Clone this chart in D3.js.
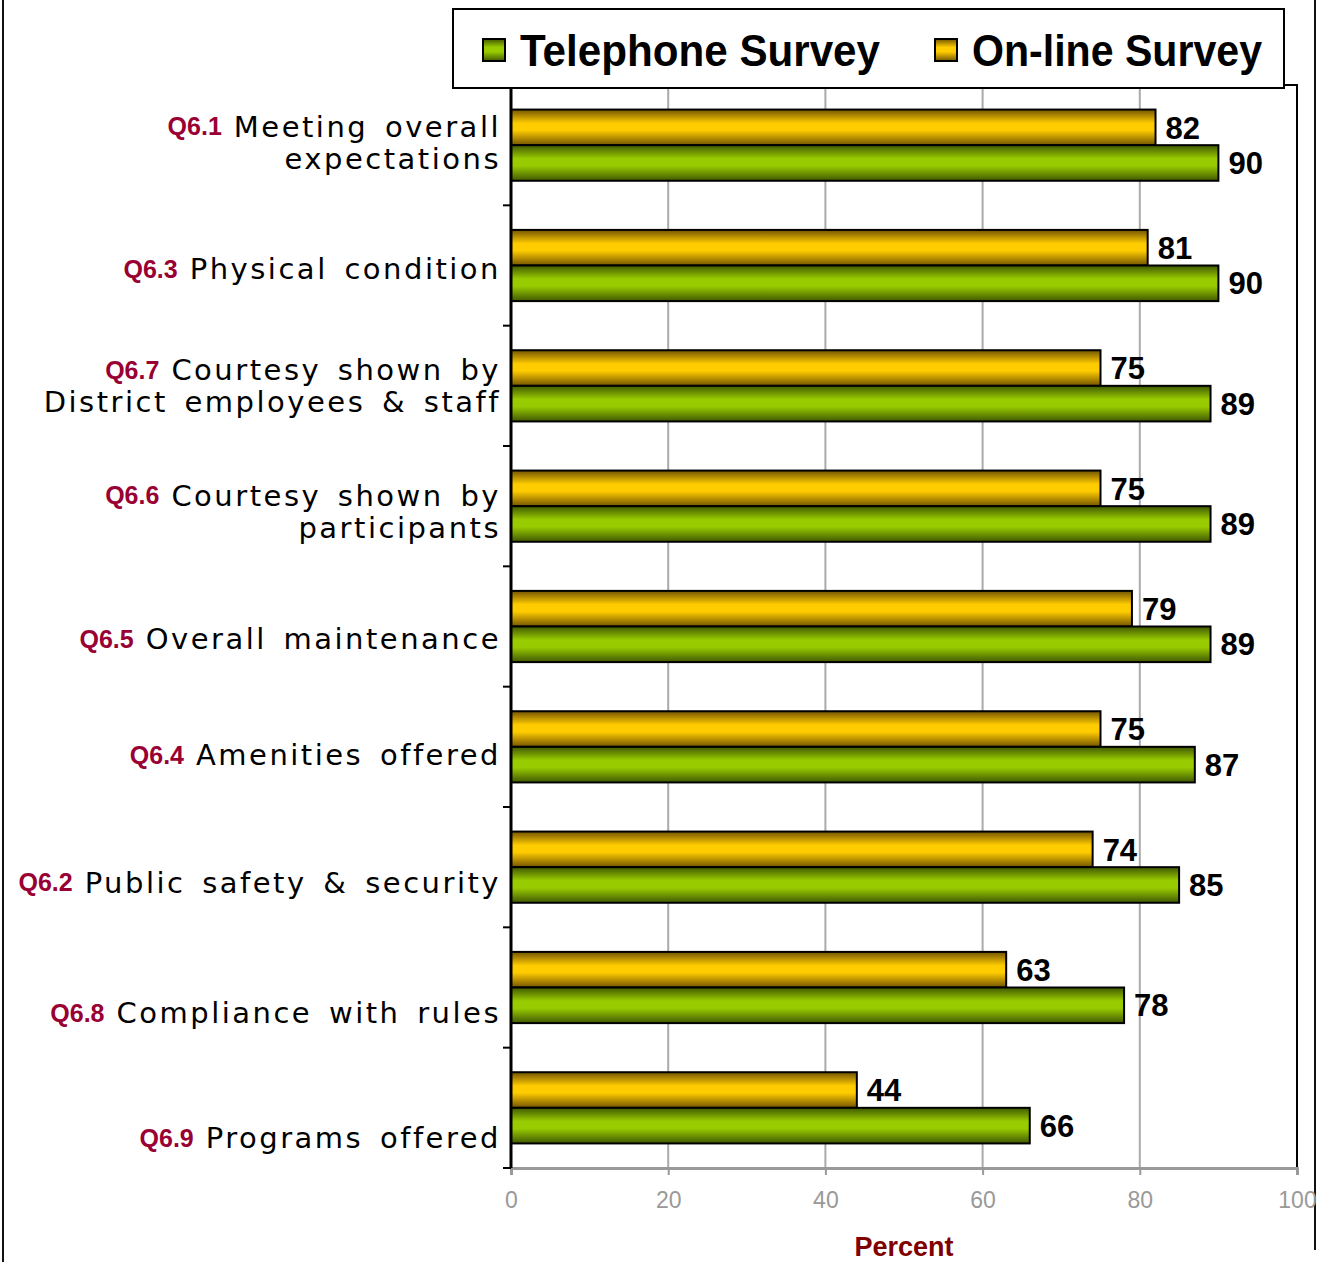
<!DOCTYPE html>
<html>
<head>
<meta charset="utf-8">
<script src="https://cdn.jsdelivr.net/npm/d3@7"></script>
<style>
  body { margin: 0; background: #fff; }
  svg { display: block; }
</style>
</head>
<body>
<div id="chart"></div>
<script>
// Category codes and label text (top to bottom)
var codes = ["Q6.1", "Q6.3", "Q6.7", "Q6.6", "Q6.5", "Q6.4", "Q6.2", "Q6.8", "Q6.9"];
var line1 = ["Meeting overall", "Physical condition", "Courtesy shown by", "Courtesy shown by",
             "Overall maintenance", "Amenities offered", "Public safety & security",
             "Compliance with rules", "Programs offered"];
var line2 = ["expectations", "", "District employees & staff", "participants", "", "", "", "", ""];

// Series values
var telephone = [90, 90, 89, 89, 89, 87, 85, 78, 66];
var online = [82, 81, 75, 75, 79, 75, 74, 63, 44];

var xTicks = [0, 20, 40, 60, 80, 100];

// vertical nudge of the category labels (layout only)
var labelNudge = [-3, 3, 0, 5, 12, 8, 15, 25, 30];

var W = 1327, H = 1262;
var plot = { left: 511, right: 1297, top: 85, bottom: 1168 };

var svg = d3.select("#chart").append("svg")
    .attr("width", W)
    .attr("height", H);

// Gradients for bars
var defs = svg.append("defs");
function grad(id, dark, light) {
    var g = defs.append("linearGradient").attr("id", id)
        .attr("x1", 0).attr("y1", 0).attr("x2", 0).attr("y2", 1);
    g.append("stop").attr("offset", "0%").attr("stop-color", dark);
    g.append("stop").attr("offset", "38%").attr("stop-color", light);
    g.append("stop").attr("offset", "58%").attr("stop-color", light);
    g.append("stop").attr("offset", "100%").attr("stop-color", dark);
}
grad("gOnline", "#735400", "#ffcc00");
grad("gPhone", "#405800", "#99cc00");

var series = [
    { key: "online", name: "On-line Survey", values: online, fill: "url(#gOnline)" },
    { key: "telephone", name: "Telephone Survey", values: telephone, fill: "url(#gPhone)" }
];

var x = d3.scaleLinear().domain([0, 100]).range([plot.left, plot.right]);
var y0 = d3.scaleBand().domain(codes).range([plot.top, plot.bottom]);
var y1 = d3.scaleBand().domain(["online", "telephone"])
    .range([0, y0.bandwidth()]).paddingOuter(0.69).paddingInner(0);

// outer frame lines
svg.append("line").attr("x1", 3).attr("x2", 3).attr("y1", 0).attr("y2", H)
    .style("stroke", "#111").style("stroke-width", 2);
svg.append("line").attr("x1", 1315).attr("x2", 1315).attr("y1", 0).attr("y2", 1250)
    .style("stroke", "#111").style("stroke-width", 2);

// gridlines
svg.append("g").selectAll("line")
    .data(xTicks.filter(function(d) { return d > 0 && d < 100; }))
    .enter().append("line")
    .attr("x1", function(d) { return x(d); })
    .attr("x2", function(d) { return x(d); })
    .attr("y1", plot.top).attr("y2", plot.bottom)
    .style("stroke", "#aaa").style("stroke-width", 2);

// plot border (top + right)
svg.append("path")
    .attr("d", "M" + plot.left + "," + plot.top + "H" + plot.right + "V" + plot.bottom)
    .style("fill", "none").style("stroke", "#000").style("stroke-width", 2);

// bottom axis
var xAxis = svg.append("g")
    .attr("transform", "translate(0," + plot.bottom + ")")
    .call(d3.axisBottom(x).tickValues(xTicks).tickSize(7).tickPadding(17));
xAxis.select(".domain").style("stroke", "#999").style("stroke-width", 3);
xAxis.selectAll(".tick line").style("stroke", "#999").style("stroke-width", 2);
xAxis.selectAll(".tick text")
    .style("fill", "#999")
    .style("font-family", "'Liberation Sans', Arial, sans-serif")
    .style("font-size", "23px");

svg.append("text")
    .attr("x", 904).attr("y", 1256)
    .attr("text-anchor", "middle")
    .style("font-family", "'Liberation Sans', Arial, sans-serif")
    .style("font-weight", "bold")
    .style("font-size", "27px")
    .style("fill", "#800000")
    .text("Percent");

// bars
var groups = svg.append("g").selectAll("g")
    .data(codes)
    .enter().append("g")
    .attr("transform", function(d) { return "translate(0," + y0(d) + ")"; });

groups.selectAll("rect")
    .data(function(d, i) {
        return series.map(function(s) { return { key: s.key, fill: s.fill, value: s.values[i] }; });
    })
    .enter().append("rect")
    .attr("x", x(0))
    .attr("y", function(d) { return y1(d.key); })
    .attr("height", y1.bandwidth())
    .attr("width", function(d) { return x(d.value) - x(0); })
    .style("fill", function(d) { return d.fill; })
    .style("stroke", "#000")
    .style("stroke-width", 2);

groups.selectAll(".val")
    .data(function(d, i) {
        return series.map(function(s) { return { key: s.key, value: s.values[i] }; });
    })
    .enter().append("text")
    .attr("class", "val")
    .attr("x", function(d) { return x(d.value) + 10; })
    .attr("y", function(d) { return y1(d.key) + y1.bandwidth() / 2; })
    .attr("dy", "0.36em")
    .style("font-family", "'Liberation Sans', Arial, sans-serif")
    .style("font-weight", "bold")
    .style("font-size", "31px")
    .style("fill", "#000")
    .text(function(d) { return d.value; });

// left axis
var yAxisG = svg.append("g");
yAxisG.append("line")
    .attr("x1", plot.left).attr("x2", plot.left)
    .attr("y1", plot.top).attr("y2", plot.bottom)
    .style("stroke", "#000").style("stroke-width", 3);
yAxisG.selectAll(".tk")
    .data(codes)
    .enter().append("line")
    .attr("class", "tk")
    .attr("x1", plot.left - 8).attr("x2", plot.left)
    .attr("y1", function(d) { return y0(d) + y0.bandwidth(); })
    .attr("y2", function(d) { return y0(d) + y0.bandwidth(); })
    .style("stroke", "#000").style("stroke-width", 2);

// category labels
var labelFont = "'DejaVu Sans', Verdana, sans-serif";
function catText(yy, str) {
    return svg.append("text")
        .attr("x", 501)
        .attr("y", yy)
        .attr("dy", "0.36em")
        .attr("text-anchor", "end")
        .style("font-family", labelFont)
        .style("font-size", "29px")
        .style("letter-spacing", "2.5px")
        .style("word-spacing", "5px")
        .style("fill", "#000")
        .text(str);
}
codes.forEach(function(c, i) {
    var cy = y0(c) + y0.bandwidth() / 2 + labelNudge[i];
    var two = line2[i] !== "";
    var lh = 32;
    var yFirst = two ? cy - lh / 2 : cy;
    var t = catText(yFirst, line1[i]);
    var startX = t.node().getBBox().x;
    svg.append("text")
        .attr("x", startX - 12)
        .attr("y", yFirst)
        .attr("dy", "0.36em")
        .attr("text-anchor", "end")
        .style("font-family", "'Liberation Sans', Arial, sans-serif")
        .style("font-weight", "bold")
        .style("font-size", "25px")
        .style("fill", "#990033")
        .text(c);
    if (two) catText(yFirst + lh, line2[i]);
});

// legend
var legend = svg.append("g");
legend.append("rect")
    .attr("x", 453).attr("y", 9).attr("width", 831).attr("height", 79)
    .style("fill", "#fff").style("stroke", "#000").style("stroke-width", 2);

var legendItems = [series[1], series[0]];
var legendX = [483, 935];
var legendW = [360, 290];
legendItems.forEach(function(s, i) {
    legend.append("rect")
        .attr("x", legendX[i]).attr("y", 39)
        .attr("width", 22).attr("height", 22)
        .style("fill", s.fill).style("stroke", "#000").style("stroke-width", 2);
    legend.append("text")
        .attr("x", legendX[i] + 37).attr("y", 66)
        .attr("textLength", legendW[i])
        .attr("lengthAdjust", "spacingAndGlyphs")
        .style("font-family", "'Liberation Sans', Arial, sans-serif")
        .style("font-weight", "bold")
        .style("font-size", "44px")
        .style("fill", "#000")
        .text(s.name);
});
</script>
</body>
</html>
